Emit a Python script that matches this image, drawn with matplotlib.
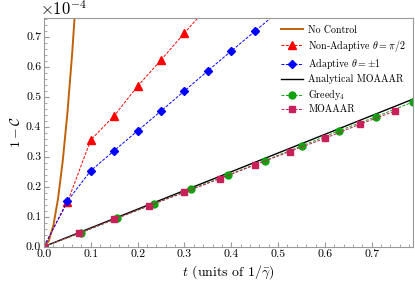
import numpy as np
import matplotlib.pyplot as plt
from matplotlib.ticker import MultipleLocator, AutoMinorLocator

plt.rcParams['font.family'] = 'serif'
plt.rcParams['font.serif'] = ['cmr10']
plt.rcParams['mathtext.fontset'] = 'cm'
plt.rcParams['axes.formatter.use_mathtext'] = True

# values in units of 1e-4
t_none = [0.0, 0.01, 0.02, 0.03, 0.04, 0.05, 0.06, 0.07]
y_none = [0.0, 0.018, 0.07, 0.16, 0.285, 0.445, 0.64, 0.87]

t_nonad = [0.0, 0.05, 0.10, 0.15, 0.20, 0.25, 0.30, 0.35]
y_nonad = [0.0, 0.148, 0.356, 0.436, 0.535, 0.622, 0.712, 0.80]

t_adapt = [0.0, 0.05, 0.10, 0.15, 0.20, 0.25, 0.30, 0.35, 0.40, 0.45, 0.50]
y_adapt = [0.0, 0.152, 0.253, 0.32, 0.386, 0.452, 0.519, 0.586, 0.652, 0.717, 0.783]

t_analytic = [0.0, 0.8]
y_analytic = [0.0, 0.499]

t_greedy = [0.0, 0.079, 0.157, 0.236, 0.315, 0.394, 0.472, 0.551, 0.630, 0.709, 0.788]
y_greedy = [0.0, 0.046, 0.095, 0.143, 0.192, 0.239, 0.287, 0.336, 0.386, 0.433, 0.482]

t_moaaar = [0.0, 0.075, 0.15, 0.225, 0.30, 0.375, 0.45, 0.525, 0.60, 0.675, 0.75]
y_moaaar = [0.0, 0.045, 0.091, 0.137, 0.181, 0.226, 0.272, 0.317, 0.361, 0.408, 0.452]

fig = plt.figure(figsize=(4.15, 2.95), dpi=100)
ax = fig.add_axes([0.106, 0.164, 0.889, 0.774])

ax.plot(t_none, y_none, color='#c0620a', lw=1.4, label='No Control')
ax.plot(t_nonad, y_nonad, color='red', ls='--', lw=0.7, marker='^', ms=6,
        dashes=(3, 1.5), label=r'Non-Adaptive $\theta=\pi/2$')
ax.plot(t_adapt, y_adapt, color='blue', ls='--', lw=0.7, marker='D', ms=4.5,
        dashes=(3, 1.5), label=r'Adaptive $\theta=\pm1$')
ax.plot(t_analytic, y_analytic, color='black', lw=1.0, label='Analytical MOAAAR')
ax.plot(t_greedy, y_greedy, color='#10a010', ls='--', lw=0.7, marker='o', ms=5,
        dashes=(3, 1.5), label=r'Greedy$_4$')
ax.plot(t_moaaar, y_moaaar, color='#c8205a', ls='--', lw=0.7, marker='s', ms=5,
        dashes=(3, 1.5), label='MOAAAR')

ax.set_xlim(0, 0.788)
ax.set_ylim(0, 0.761)
ax.xaxis.set_major_locator(MultipleLocator(0.1))
ax.yaxis.set_major_locator(MultipleLocator(0.1))
ax.xaxis.set_minor_locator(AutoMinorLocator(5))
ax.yaxis.set_minor_locator(AutoMinorLocator(5))
ax.xaxis.set_major_formatter(plt.FuncFormatter(lambda v, p: '%.1f' % v))
ax.yaxis.set_major_formatter(plt.FuncFormatter(lambda v, p: '%.1f' % v))
ax.tick_params(which='both', direction='in', color='#999999', labelsize=8.5, pad=2)
ax.tick_params(which='major', length=3.5)
ax.tick_params(which='minor', length=2)
for s in ax.spines.values():
    s.set_color('#999999')

ax.text(-0.012, 1.0, r'$\times10^{-4}$', transform=ax.transAxes, fontsize=12,
        ha='left', va='bottom')
ax.set_ylabel(r'$1-\mathcal{C}$', fontsize=10, labelpad=2)
ax.set_xlabel(r'$t$ (units of $1/\bar{\gamma}$)', fontsize=10, labelpad=3)

ax.legend(loc='upper right', frameon=False, fontsize=7.2, handlelength=2.2,
          labelspacing=0.28, handletextpad=0.5, borderaxespad=0.3)

fig.savefig('out.png', dpi=100)
